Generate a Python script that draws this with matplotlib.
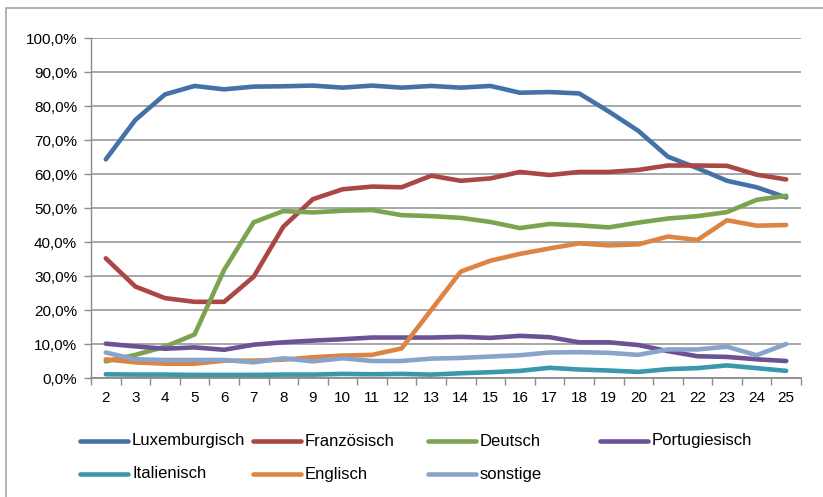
import numpy as np
import matplotlib
matplotlib.use('Agg')
import matplotlib.pyplot as plt
from matplotlib.lines import Line2D
from matplotlib.patches import Rectangle
from matplotlib.ticker import FuncFormatter

# Daten (Anteile in %)
jahre = list(range(2, 26))
luxemburgisch = [64.3, 75.9, 83.4, 85.9, 84.9, 85.7, 85.8, 86.0, 85.4, 86.0, 85.4, 85.9,
                 85.4, 85.9, 83.9, 84.1, 83.7, 78.4, 72.7, 65.1, 61.7, 58.0, 56.1, 53.1]
franzoesisch = [35.2, 26.9, 23.5, 22.4, 22.4, 29.8, 44.5, 52.6, 55.5, 56.3, 56.1, 59.5,
                58.0, 58.7, 60.6, 59.7, 60.6, 60.6, 61.2, 62.5, 62.5, 62.4, 59.8, 58.4]
deutsch = [4.9, 6.8, 9.2, 12.8, 31.8, 45.8, 49.1, 48.7, 49.2, 49.4, 47.9, 47.6,
           47.1, 45.9, 44.1, 45.3, 44.9, 44.3, 45.7, 46.9, 47.6, 48.8, 52.4, 53.6]
portugiesisch = [10.1, 9.3, 8.6, 9.0, 8.3, 9.8, 10.5, 11.0, 11.4, 11.9, 11.9, 11.9,
                 12.1, 11.8, 12.4, 12.0, 10.5, 10.5, 9.7, 7.9, 6.4, 6.2, 5.5, 5.0]
italienisch = [1.1, 1.0, 1.0, 0.9, 0.9, 0.9, 1.0, 1.0, 1.2, 1.1, 1.2, 1.0,
               1.4, 1.7, 2.1, 3.0, 2.5, 2.2, 1.8, 2.6, 2.9, 3.7, 2.9, 2.1]
englisch = [5.5, 4.6, 4.2, 4.2, 5.1, 5.1, 5.4, 6.1, 6.6, 6.8, 8.7, 20.0,
            31.3, 34.5, 36.5, 38.1, 39.6, 39.0, 39.3, 41.6, 40.6, 46.4, 44.8, 45.0]
sonstige = [7.5, 5.5, 5.3, 5.3, 5.3, 4.6, 5.8, 4.9, 5.8, 5.0, 5.0, 5.7,
            5.9, 6.3, 6.7, 7.5, 7.6, 7.4, 6.8, 8.4, 8.4, 9.2, 6.7, 10.0]

serien = [
    ('Luxemburgisch', luxemburgisch, '#4472A8'),
    ('Französisch', franzoesisch, '#AA4643'),
    ('Deutsch', deutsch, '#7CA34F'),
    ('Portugiesisch', portugiesisch, '#6B5294'),
    ('Italienisch', italienisch, '#3B97AB'),
    ('Englisch', englisch, '#DE8442'),
    ('sonstige', sonstige, '#88A4CB'),
]

plt.rcParams['font.family'] = ['Liberation Sans', 'DejaVu Sans']

fig = plt.figure(figsize=(8.23, 4.97), dpi=100)
ax = fig.add_axes([91 / 823, 1 - 378 / 497, 710 / 823, 340 / 497])

for name, werte, farbe in serien:
    ax.plot(jahre, werte, color=farbe, lw=3.3, solid_capstyle='round',
            solid_joinstyle='round', label=name)

ax.set_xlim(1.5, 25.5)
ax.set_ylim(0, 100)
ax.set_yticks(np.arange(0, 101, 10))
ax.yaxis.set_major_formatter(FuncFormatter(lambda v, p: f'{v:.1f}%'.replace('.', ',')))
ax.set_xticks(jahre)
ax.set_xticks(np.arange(1.5, 26, 1), minor=True)
ax.tick_params(axis='x', which='major', length=0, pad=9, labelsize=11)
ax.tick_params(axis='x', which='minor', length=5, color='#8C8C8C', width=1)
ax.tick_params(axis='y', length=5, color='#8C8C8C', width=1, labelsize=11, pad=5)

ax.grid(axis='y', color='#A0A0A0', lw=1.3)
ax.set_axisbelow(True)
for s in ['top', 'right']:
    ax.spines[s].set_visible(False)
ax.spines['left'].set_color('#8C8C8C')
ax.spines['bottom'].set_color('#8C8C8C')
ax.spines['left'].set_linewidth(1)
ax.spines['bottom'].set_linewidth(1.3)

# Rahmen ums Diagramm
fig.add_artist(Rectangle((6 / 823, -0.1), 1.2, 1.1 - 8 / 497,
                         transform=fig.transFigure, fill=False,
                         edgecolor='#A6A6A6', lw=1.2))

# Legende (gleich breite Spalten wie in Excel)
spalten_x = [80, 253, 428, 600]
zeilen_y = [441, 474]
for i, (name, werte, farbe) in enumerate(serien):
    x0 = spalten_x[i % 4]
    y0 = zeilen_y[i // 4]
    fig.add_artist(Line2D([x0 / 823, (x0 + 48) / 823], [1 - y0 / 497, 1 - y0 / 497],
                          transform=fig.transFigure, color=farbe, lw=3.3,
                          solid_capstyle='round'))
    fig.text((x0 + 52) / 823, 1 - y0 / 497, name, fontsize=12, va='center', ha='left')

fig.savefig('out.png', dpi=100)
